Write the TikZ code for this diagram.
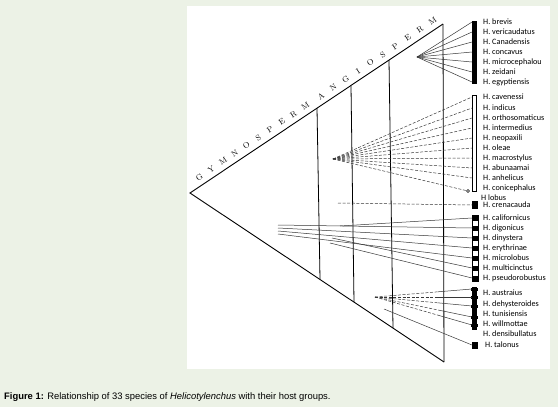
\documentclass[tikz,border=0pt]{standalone}
\usepackage{fontspec}
\newfontfamily\spfont{Carlito}
\newfontfamily\capfont{Liberation Sans}
\usetikzlibrary{calc, positioning}

\definecolor{pagebg}{RGB}{236,242,230}
\definecolor{linkgray}{RGB}{55,55,55}

\begin{document}
\begin{tikzpicture}[x=1pt, y=-1pt,
    edge/.style={black, line width=0.9pt},
    host/.style={black, line width=0.8pt},
    link/.style={linkgray, line width=0.5pt},
    dlink/.style={link, dash pattern=on 3pt off 1.6pt},
    sp/.style={anchor=west, inner sep=0pt, font=\spfont\fontsize{8.2}{9}\selectfont},
    letter/.style={sloped, above=5pt, inner sep=0pt, font=\fontsize{8}{8}\selectfont},
    fullbar/.style={fill=black},
    openbar/.style={draw=black, fill=white, line width=0.5pt},
  ]
    \fill[pagebg] (0,0) rectangle (558,407);
    \fill[white] (187,6) rectangle (550,369);
    \useasboundingbox (0,0) rectangle (558,407);

    % triangle of host groups
    \coordinate (apex) at (190,193);
    \coordinate (top) at (443,24);
    \coordinate (bot) at (444,362);
    \draw[edge] (top) -- (apex) -- (bot);
    \draw[host] (top) -- (bot);
    \coordinate (h1t) at (317,108); \coordinate (h1b) at (320,279);
    \coordinate (h2t) at (351,86);  \coordinate (h2b) at (354,302);
    \coordinate (h3t) at (389,60);  \coordinate (h3b) at (393,328);
    \foreach \h in {1,2,3}
      \draw[host] (h\h t) -- (h\h b);

    % letters along the upper edge
    \foreach \ch [count=\i, evaluate=\i as \p using 0.055+0.0465*(\i-1)] in {G,Y,M,N,O,S,P,E,R,M}
      \path (apex) -- (top) node[letter, pos=\p] (g\i) {\ch};
    \foreach \ch [count=\i, evaluate=\i as \p using 0.535+0.049*(\i-1)] in {A,N,G,I,O,S,P,E,R,M}
      \path (apex) -- (top) node[letter, pos=\p] (a\i) {\ch};

    % group 1
    \coordinate (hubA) at (417,57);
    \fill[fullbar] (472,21) rectangle (477,84);
    \foreach \name/\yy [count=\i] in {H. brevis/22, H. vericaudatus/32, H. Canadensis/42,
        H. concavus/52, H. microcephalou/62, H. zeidani/72, H. egyptiensis/82} {
      \coordinate (ea\i) at (472,\yy);
      \node[sp] (sa\i) at (483,\yy) {\name};
      \draw[link] (hubA) -- (ea\i);
    }

    % group 2
    \coordinate (hubB) at (333,159);
    \draw[openbar] (472,95) rectangle (476,191);
    \foreach \name/\yy [count=\i] in {H. cavenessi/97, H. indicus/108, H. orthosomaticus/118,
        H. intermedius/128, H. neopaxili/138, H. oleae/148, H. macrostylus/158,
        H. abunaamai/168, H. anhelicus/178} {
      \coordinate (eb\i) at (472,\yy);
      \node[sp] (sb\i) at (483,\yy) {\name};
      \draw[dlink] (hubB) -- (eb\i);
    }
    \node[sp] (sb10) at (483,188) {H. conicephalus};
    \node[sp] (sb11) at (481,198) {H lobus};
    \node[draw, circle, fill=white, inner sep=0pt, minimum size=3pt, line width=0.5pt] (ring) at (468,191) {};
    \draw[dlink] (hubB) -- (ring);

    % crenacauda
    \coordinate (cstart) at (338,203);
    \node[fullbar, inner sep=0pt, minimum width=6pt, minimum height=8pt, anchor=west] (cbox) at (472,205) {};
    \node[sp] (sc) at (483,205) {H. crenacauda};
    \draw[dlink] (cstart) -- (cbox.west);

    % group 3
    \draw[openbar] (472,215) rectangle (478,281);
    \foreach \sx/\sy/\name/\yy [count=\i] in {340/226/H. californicus/218, 278/225/H. digonicus/228,
        278/228/H. dinystera/238, 278/231/H. erythrinae/248, 278/234/H. microlobus/258,
        332/238/H. multicinctus/268, 330/243/H. pseudorobustus/278} {
      \coordinate (st\i) at (\sx,\sy);
      \coordinate (ec\i) at (472,\yy);
      \fill[fullbar] (472,\yy-2.5) rectangle (478,\yy+2.5);
      \node[sp] (sd\i) at (483,\yy) {\name};
      \draw[link] (st\i) -- (ec\i);
    }

    % group 4
    \coordinate (hubD) at (375,297);
    \fill[fullbar] (472,287) rectangle (477,330);
    \foreach \name/\yy [count=\i] in {H. austraius/293, H. dehysteroides/304,
        H. tunisiensis/314, H. willmottae/324, H. densibullatus/334}
      \node[sp] (se\i) at (483,\yy) {\name};
    \foreach \yy [count=\i] in {289,297,306,317,325} {
      \coordinate (ed\i) at (472,\yy);
      \fill[fullbar] (471,\yy-1.5) rectangle (478,\yy+1.5);
      \draw[dlink] (hubD) -- ($(hubD)!0.65!(ed\i)$);
      \draw[link] ($(hubD)!0.65!(ed\i)$) -- (ed\i);
    }

    % talonus
    \coordinate (tstart) at (384,309);
    \node[fullbar, inner sep=0pt, minimum width=6pt, minimum height=7pt, anchor=west] (tbox) at (472,345) {};
    \node[sp] (st) at (485,345) {H. talonus};
    \draw[link] (tstart) -- (tbox.west);

    \node[anchor=west, inner sep=0pt, font=\capfont\fontsize{9.4}{11}\selectfont] (caption) at (4,397)
      {\textbf{Figure 1:} Relationship of 33 species of \textit{Helicotylenchus} with their host groups.};
\end{tikzpicture}
\end{document}
